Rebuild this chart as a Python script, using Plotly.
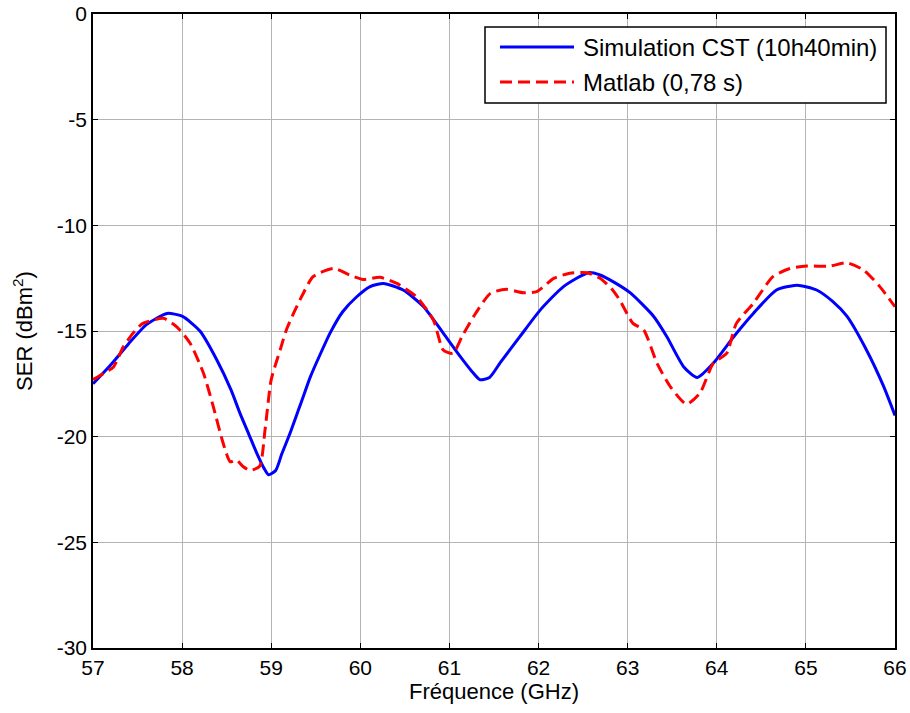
import plotly.graph_objects as go

# Simulation CST (blue)
cst_f = [57.0, 57.2, 57.4, 57.6, 57.83, 58.0, 58.2, 58.39, 58.55, 58.65, 58.75, 58.84, 58.92, 58.97, 59.05, 59.12, 59.21, 59.3, 59.36,
         59.44, 59.55, 59.66, 59.8, 59.96, 60.11, 60.26, 60.48, 60.71, 60.93, 61.12, 61.25, 61.34, 61.45, 61.57, 61.79,
         62.02, 62.28, 62.56, 62.69, 62.85, 63.03, 63.29, 63.44, 63.63, 63.78, 63.96, 64.19, 64.41, 64.67, 64.9,
         65.12, 65.3, 65.46, 65.68, 65.87, 66.0]
cst_v = [-17.5, -16.6, -15.6, -14.7, -14.17, -14.3, -15.0, -16.37, -17.8, -18.9, -19.9, -20.8, -21.5, -21.8, -21.6, -20.8, -19.85, -18.8, -18.1,
         -17.16, -16.1, -15.1, -14.1, -13.38, -12.9, -12.75, -13.06, -13.85, -15.1, -16.2, -16.9, -17.3, -17.2, -16.5, -15.27,
         -14.0, -12.9, -12.24, -12.35, -12.7, -13.2, -14.3, -15.27, -16.7, -17.2, -16.53, -15.27, -14.17, -13.06, -12.83,
         -13.06, -13.6, -14.3, -15.9, -17.6, -19.0]

# Matlab (red dashed)
mat_f = [57.0, 57.12, 57.23, 57.34, 57.45, 57.56, 57.79, 57.94, 58.09, 58.24, 58.35, 58.46, 58.54, 58.61, 58.68, 58.76, 58.87,
         58.93, 59.0, 59.1, 59.17, 59.25, 59.35, 59.47, 59.7, 59.88, 60.03, 60.22, 60.41, 60.63, 60.82, 60.93, 61.04,
         61.14, 61.27, 61.46, 61.64, 61.83, 61.98, 62.17, 62.35, 62.54, 62.69, 62.82, 62.91, 63.06, 63.18, 63.33, 63.48,
         63.66, 63.81, 63.96, 64.11, 64.22, 64.41, 64.63, 64.82, 65.01, 65.27, 65.46, 65.65, 65.83, 66.0]
mat_v = [-17.3, -17.0, -16.7, -15.75, -15.1, -14.64, -14.4, -14.8, -15.58, -17.0, -18.58, -20.3, -21.19, -21.1, -21.4, -21.6, -21.4,
         -19.7, -17.3, -15.9, -14.95, -14.17, -13.3, -12.43, -12.04, -12.35, -12.56, -12.46, -12.75, -13.38, -14.48, -15.9, -16.06,
         -15.27, -14.32, -13.22, -13.03, -13.19, -13.14, -12.51, -12.27, -12.24, -12.5, -13.0, -13.53, -14.64, -14.95, -16.53, -17.64,
         -18.46, -17.95, -16.53, -16.06, -14.64, -13.69, -12.43, -12.04, -11.93, -11.93, -11.77, -12.12, -12.9, -13.85]

x_ticks = [57, 58, 59, 60, 61, 62, 63, 64, 65, 66]
y_ticks = [0, -5, -10, -15, -20, -25, -30]
y_tick_labels = ["0", "-5", "-10", "-15", "-20", "-25", "-30"]

series_names = ["Simulation CST (10h40min)", "Matlab (0,78 s)"]
series_colors = ["#0000ff", "#ff0000"]
series_dash = ["solid", "12px,6px"]

FONT = "Liberation Sans, Arial"
W, H = 910, 713
ML, MR, MT, MB = 93, 15, 14, 65
PW, PH = W - ML - MR, H - MT - MB


def px_x(p):
    return (p - ML) / PW


def px_y(p):
    return (H - MB - p) / PH


fig = go.Figure()
for fx, fy, nm, col, dsh in [(cst_f, cst_v, series_names[0], series_colors[0], series_dash[0]),
                             (mat_f, mat_v, series_names[1], series_colors[1], series_dash[1])]:
    fig.add_trace(go.Scatter(x=fx, y=fy, mode="lines", name=nm, showlegend=False,
                             line=dict(color=col, width=3, dash=dsh, shape="spline", smoothing=0.6)))

axis_common = dict(showline=True, linecolor="black", linewidth=1.5, mirror="ticks", ticks="inside",
                   ticklen=5, tickcolor="black", showgrid=True, gridcolor="#b4b4b4", gridwidth=1,
                   zeroline=False, automargin=False,
                   tickfont=dict(family=FONT, size=21, color="black"))

# Legend box drawn like MATLAB's (longer line samples than Plotly's built-in legend)
shapes = [dict(type="rect", xref="paper", yref="paper",
               x0=px_x(485), x1=px_x(886), y0=px_y(103), y1=px_y(27),
               line=dict(color="black", width=1.5), fillcolor="white", layer="above")]
annotations = []
row_y = [47, 82]
for i in range(2):
    shapes.append(dict(type="line", xref="paper", yref="paper",
                       x0=px_x(500), x1=px_x(574), y0=px_y(row_y[i]), y1=px_y(row_y[i]),
                       line=dict(color=series_colors[i], width=3, dash=series_dash[i]), layer="above"))
    annotations.append(dict(xref="paper", yref="paper", x=px_x(581), y=px_y(row_y[i]),
                            xanchor="left", yanchor="middle", showarrow=False,
                            text=series_names[i], font=dict(family=FONT, size=24, color="black")))

fig.update_layout(
    width=W, height=H,
    margin=dict(l=ML, r=MR, t=MT, b=MB),
    paper_bgcolor="white", plot_bgcolor="white",
    font=dict(family=FONT, size=21, color="black"),
    xaxis=dict(range=[57, 66], tickvals=x_ticks,
               title=dict(text="Fréquence (GHz)", standoff=6, font=dict(size=22)), **axis_common),
    yaxis=dict(range=[-30, 0], tickvals=y_ticks, ticktext=y_tick_labels,
               title=dict(text="SER (dBm<sup>2</sup>)", standoff=18, font=dict(size=22)), **axis_common),
    shapes=shapes,
    annotations=annotations,
    showlegend=False,
)

fig.write_html("out.html", config={"displayModeBar": False},
               post_script="document.body.style.margin='0';document.body.style.overflow='hidden';")
